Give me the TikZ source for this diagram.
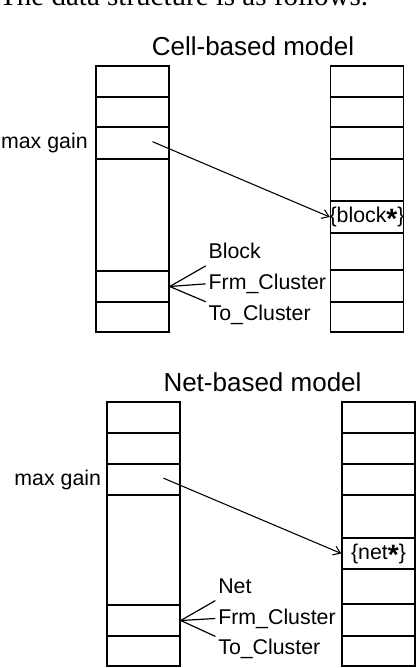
\documentclass[tikz,border=0pt]{standalone}
\usepackage{fontspec}
\setmainfont{Liberation Sans}
\newfontfamily\headserif{Liberation Serif}
\usepackage{tikz}
\usetikzlibrary{arrows.meta,positioning}
\newcommand{\ptrstar}{\raisebox{-0.5ex}{\fontsize{21}{21}\selectfont\textbf{*}}}

\begin{document}
\begin{tikzpicture}[
  x=0.75pt, y=-0.75pt,
  cell/.style={rectangle,draw,line width=1.1pt,minimum width=54.75pt,inner sep=0pt},
  lbl/.style={inner sep=2pt,font=\fontsize{16}{19}\selectfont,text height=11.5pt,text depth=3pt},
  ttl/.style={inner sep=0pt,font=\fontsize{19.5}{23}\selectfont},
  ptr/.style={line width=0.8pt,-{Straight Barb[length=5pt,width=7pt]}},
  fan/.style={line width=0.9pt}
]
\useasboundingbox (0,0) rectangle (420,668);
\node[inner sep=0pt,anchor=base west,font=\headserif\fontsize{21.75}{26}\selectfont] (head) at (-1,5.5) {The data structure is as follows.};

% cell-based model
\node[ttl,anchor=base] (celltitle) at (253,55) {Cell-based model};
\foreach \t/\b [count=\i] in {66/97,97/127,127/159,159/271,271/302,302/332}
  \node[cell,minimum height={(\b-\t)*0.75pt}] (cl\i) at (132.5,{(\t+\b)/2}) {};
\foreach \t/\b [count=\i] in {66/97,97/127,127/159,159/201,201/233,233/270,270/302,302/332}
  \node[cell,minimum height={(\b-\t)*0.75pt}] (cr\i) at (367,{(\t+\b)/2}) {};
\node[lbl,left=3.5pt of cl3] (cgain) {max gain};
\node[lbl] (cblk) at (cr5) {\{block\ptrstar\}};
\node[lbl,right=27pt of cl5,anchor=west,yshift=2pt] (cfrm) {Frm\_Cluster};
\node[lbl,above=4pt of cfrm.north west,anchor=south west] (cblock) {Block};
\node[lbl,below=4pt of cfrm.south west,anchor=north west] (cto) {To\_Cluster};
\draw[ptr] ([xshift=15pt,yshift=1pt]cl3.center) -- (cr5.west);
\draw[fan] (cl5.east) -- (cblock.south west);
\draw[fan] (cl5.east) -- (cfrm.west);
\draw[fan] (cl5.east) -- (cto.north west);

% net-based model
\node[ttl,anchor=base] (nettitle) at (262.5,391) {Net-based model};
\foreach \t/\b [count=\i] in {402/433,433/464,464/495,495/605,605/636,636/666}
  \node[cell,minimum height={(\b-\t)*0.75pt}] (nl\i) at (143.5,{(\t+\b)/2}) {};
\foreach \t/\b [count=\i] in {402/433,433/464,464/495,495/538,538/569,569/604,604/636,636/666}
  \node[cell,minimum height={(\b-\t)*0.75pt}] (nr\i) at (378.5,{(\t+\b)/2}) {};
\node[lbl,left=1.75pt of nl3] (ngain) {max gain};
\node[lbl] (nnet) at (nr5) {\{net\ptrstar\}};
\node[lbl,right=26pt of nl5,anchor=west,yshift=1.5pt] (nfrm) {Frm\_Cluster};
\node[lbl,above=4pt of nfrm.north west,anchor=south west] (nnetl) {Net};
\node[lbl,below=4pt of nfrm.south west,anchor=north west] (nto) {To\_Cluster};
\draw[ptr] ([xshift=15pt,yshift=1pt]nl3.center) -- (nr5.west);
\draw[fan] (nl5.east) -- (nnetl.south west);
\draw[fan] (nl5.east) -- (nfrm.west);
\draw[fan] (nl5.east) -- (nto.north west);
\end{tikzpicture}
\end{document}
